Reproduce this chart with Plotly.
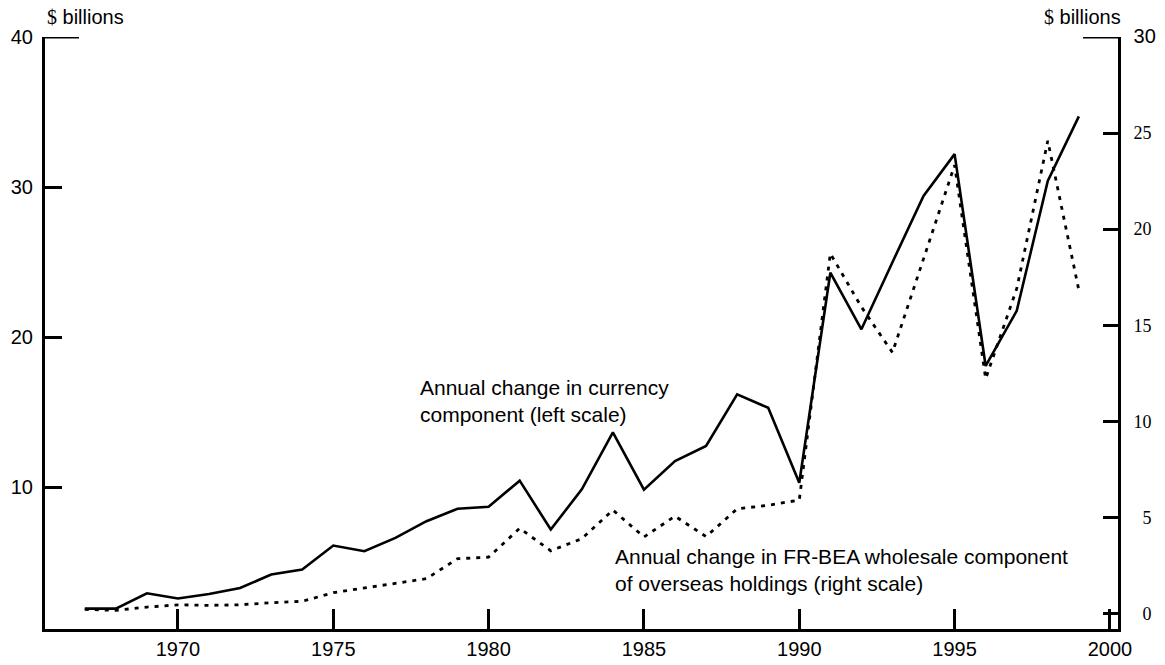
import plotly.graph_objects as go

years = list(range(1967, 2000))

# Annual change in currency component (left scale), $ billions
currency = [1.93, 1.93, 2.95, 2.6, 2.9, 3.3, 4.2, 4.53, 6.13, 5.75,
            6.64, 7.75, 8.58, 8.71, 10.45, 7.2, 9.87, 13.67, 9.85, 11.76,
            12.76, 16.2, 15.3, 10.31, 24.3, 20.53, 25.0, 29.42, 32.2, 18.09,
            21.76, 30.42, 34.71]

# Annual change in FR-BEA wholesale component of overseas holdings (right scale)
wholesale = [0.21, 0.16, 0.33, 0.45, 0.42, 0.45, 0.56, 0.63, 1.08, 1.32,
             1.55, 1.81, 2.85, 2.93, 4.43, 3.26, 3.89, 5.38, 3.98, 5.06,
             4.0, 5.44, 5.63, 5.9, 18.73, 15.95, 13.58, 18.5, 23.33, 12.22,
             16.9, 24.6, 16.82]

x_ticks = [1970, 1975, 1980, 1985, 1990, 1995, 2000]
left_ticks = [10, 20, 30, 40]
right_ticks = [0, 5, 10, 15, 20, 25, 30]
right_ticktext = ["\u20070", "\u20075", "10", "15", "20", "25",
                  "<span style='font-family:Liberation Sans;font-size:20px'>30</span>"]

SANS = "Liberation Sans, Arial, sans-serif"
SERIF = "Liberation Serif, Times New Roman, serif"

fig = go.Figure()
fig.add_trace(go.Scatter(x=years, y=currency, mode="lines",
                         line=dict(color="black", width=2.6), yaxis="y",
                         showlegend=False))
fig.add_trace(go.Scatter(x=years, y=wholesale, mode="lines",
                         line=dict(color="black", width=2.8, dash="4px,6px"),
                         yaxis="y2", showlegend=False))

fig.update_layout(
    width=1165, height=665,
    margin=dict(l=45, r=47, t=37, b=36, autoexpand=False),
    paper_bgcolor="white", plot_bgcolor="white",
    font=dict(family=SANS, color="black", size=20),
    xaxis=dict(range=[1965.72, 2000.26], tickvals=x_ticks,
               ticks="inside", ticklen=20, tickwidth=2.5, tickcolor="black",
               showline=True, linecolor="black", linewidth=3,
               showgrid=False, zeroline=False, ticklabelstandoff=0,
               automargin=False,
               tickfont=dict(family=SANS, size=20)),
    yaxis=dict(range=[0.57, 40.0], tickvals=left_ticks,
               ticks="inside", ticklen=17, tickwidth=2.5, tickcolor="black",
               showline=True, linecolor="black", linewidth=3,
               showgrid=False, zeroline=False, ticklabelstandoff=5,
               automargin=False,
               tickfont=dict(family=SANS, size=20)),
    yaxis2=dict(range=[-0.81, 30.0], overlaying="y", side="right",
                tickvals=right_ticks, ticktext=right_ticktext,
                ticks="inside", ticklen=15, tickwidth=2.5, tickcolor="black",
                showline=True, linecolor="black", linewidth=3,
                showgrid=False, zeroline=False, ticklabelstandoff=9,
                automargin=False,
                tickfont=dict(family=SERIF, size=18)),
)

# long top ticks
fig.add_shape(type="line", xref="paper", yref="y", x0=0, x1=34 / 1073,
              y0=40, y1=40, line=dict(color="black", width=3))
fig.add_shape(type="line", xref="paper", yref="y2", x0=1 - 35 / 1073, x1=1,
              y0=30, y1=30, line=dict(color="black", width=3))

fig.add_annotation(xref="paper", yref="paper", x=0, y=(629 - 18) / 591.5,
                   xanchor="left", yanchor="middle", showarrow=False,
                   text="<span style='font-family:Liberation Serif'>$</span> billions",
                   font=dict(family=SANS, size=20))
fig.add_annotation(xref="paper", yref="paper", x=(1123 - 45) / 1073, y=(629 - 18) / 591.5,
                   xanchor="right", yanchor="middle", showarrow=False,
                   text="<span style='font-family:Liberation Serif'>$</span> billions",
                   font=dict(family=SANS, size=20))

fig.add_annotation(xref="paper", yref="paper", x=(418 - 45) / 1073, y=(629 - 401) / 591.5,
                   xanchor="left", yanchor="middle", align="left", showarrow=False,
                   text="Annual change in currency<br>component (left scale)",
                   font=dict(family=SANS, size=21))
fig.add_annotation(xref="paper", yref="paper", x=(613 - 45) / 1073, y=(629 - 570) / 591.5,
                   xanchor="left", yanchor="middle", align="left", showarrow=False,
                   text="Annual change in FR-BEA wholesale component<br>of overseas holdings (right scale)",
                   font=dict(family=SANS, size=21))

fig.write_html("out.html")
